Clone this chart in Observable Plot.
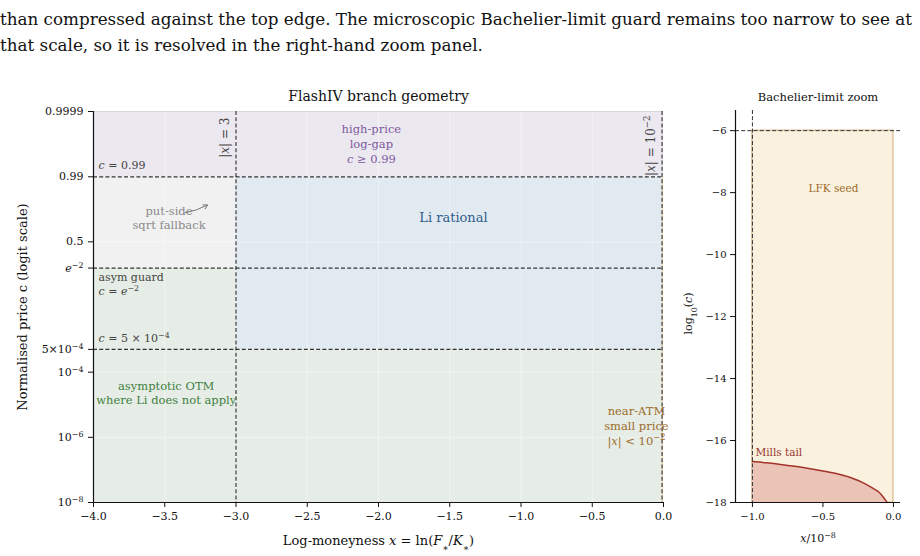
<!DOCTYPE html>
<html>
<head>
<meta charset="utf-8">
<script src="https://cdn.jsdelivr.net/npm/d3@7"></script>
<script src="https://cdn.jsdelivr.net/npm/@observablehq/plot@0.6"></script>
<style>
  body { margin: 0; background: #fff; color: #111; width: 920px; height: 556px; overflow: hidden; position: relative; }
  #para { position: absolute; left: 0; top: 6px; width: 940px; font-family: "DejaVu Serif", "Liberation Serif", serif; font-size: 16.75px; line-height: 26px; white-space: nowrap; color: #111; }
  #left { position: absolute; left: 0; top: 80px; }
  #right { position: absolute; left: 680px; top: 80px; }
</style>
</head>
<body>
<div id="para">than compressed against the top edge. The microscopic Bachelier-limit guard remains too narrow to see at<br>that scale, so it is resolved in the right-hand zoom panel.</div>
<div id="left"></div>
<div id="right"></div>
<script>
const logit = c => Math.log(c / (1 - c));

// ---------- left panel data ----------
const xTicks = [-4, -3.5, -3, -2.5, -2, -1.5, -1, -0.5, 0];
const cTicks = [0.9999, 0.99, 0.5, Math.exp(-2), 5e-4, 1e-4, 1e-6, 1e-8];
const cTickLabels = ["0.9999", "0.99", "0.5", "`e`^{−2}", "5×10^{−4}", "10^{−4}", "10^{−6}", "10^{−8}"];
const xDomain = [-4, 0];
const cDomain = [1e-8, 0.9999];

const regionName = ["high-price log-gap", "put-side sqrt fallback", "Li rational", "asymptotic OTM", "asymptotic OTM", "near-ATM small price"];
const regionX1 = [-4, -4, -3, -4, -3, -0.01];
const regionX2 = [0, -3, -0.01, -3, -0.01, 0];
const regionC1 = [0.99, Math.exp(-2), 5e-4, 1e-8, 1e-8, 1e-8];
const regionC2 = [0.9999, 0.99, 0.99, Math.exp(-2), 5e-4, 0.99];

const cThresholds = [0.99, Math.exp(-2), 5e-4];
const xThresholds = [-3, -0.01];

// ---------- right panel data ----------
const zoomXTicks = [-1, -0.5, 0];
const zoomYTicks = [-6, -8, -10, -12, -14, -16, -18];
const zoomXDomain = [-1.12, 0.05];
const zoomYDomain = [-18, -5.35];
const lfkX = [-1, 0];
const lfkLog10C = [-18, -6];
const millsX = [-1.0, -0.9, -0.8, -0.7, -0.6, -0.5, -0.4, -0.3, -0.25, -0.2, -0.15, -0.1, -0.07, -0.045];
const millsLog10C = [-16.68, -16.72, -16.77, -16.83, -16.90, -16.98, -17.07, -17.20, -17.29, -17.40, -17.53, -17.68, -17.84, -18.0];

// ---------- styles ----------
const regionColors = {
  "high-price log-gap": "#ece8f0",
  "put-side sqrt fallback": "#f1f1f1",
  "Li rational": "#e1e9f1",
  "asymptotic OTM": "#e6ede6",
  "near-ATM small price": "#f0dcb4"
};
const FONT = "DejaVu Serif";
const dash = {stroke: "#333", strokeWidth: 1.15, strokeDasharray: "4,2.2"};

const regions = regionName.map((n, i) => ({name: n, x1: regionX1[i], x2: regionX2[i], y1: logit(regionC1[i]), y2: logit(regionC2[i])}));
const cTickLogit = cTicks.map(logit);
const tickLabelOf = new Map(cTickLogit.map((v, i) => [v, cTickLabels[i]]));

const left = Plot.plot({
  width: 680, height: 476,
  marginLeft: 93, marginRight: 17, marginTop: 31, marginBottom: 54,
  style: {fontFamily: FONT, fontSize: "11px", background: "white", color: "#111", overflow: "visible"},
  x: {domain: xDomain},
  y: {domain: cDomain.map(logit)},
  marks: [
    Plot.rect(regions, {x1: "x1", x2: "x2", y1: "y1", y2: "y2", fill: d => regionColors[d.name]}),
    Plot.gridX(xTicks, {stroke: "white", strokeOpacity: 0.55, strokeWidth: 0.8}),
    Plot.gridY(cTickLogit, {stroke: "white", strokeOpacity: 0.55, strokeWidth: 0.8}),
    Plot.ruleY([logit(cDomain[1])], {stroke: "#d8d8d8", strokeWidth: 1}),
    Plot.ruleY(cThresholds.map(logit), {...dash}),
    Plot.ruleX(xThresholds, {...dash}),
    Plot.ruleX([xDomain[0]], {stroke: "#111", strokeWidth: 1.2}),
    Plot.ruleY([logit(cDomain[0])], {stroke: "#111", strokeWidth: 1.2}),
    Plot.axisX(xTicks, {tickSize: 5, tickPadding: 5, tickFormat: d3.format(".1f"), fontSize: 11, stroke: "#111"}),
    Plot.axisY(cTickLogit, {tickSize: 5, tickPadding: 5, tickFormat: v => tickLabelOf.get(v), fontSize: 11, stroke: "#111"}),
    // axis labels and title
    Plot.text(["FlashIV branch geometry"], {frameAnchor: "top", lineAnchor: "middle", dy: -15, fontSize: 14, fill: "#111"}),
    Plot.text(["Log-moneyness `x` = ln(`F`_{∗}/`K`_{∗})"], {frameAnchor: "bottom", lineAnchor: "middle", dy: 38, fontSize: 13, fill: "#111"}),
    Plot.text(["Normalised price c (logit scale)"], {frameAnchor: "left", textAnchor: "middle", lineAnchor: "middle", dx: -71, rotate: -90, fontSize: 13, fill: "#111"}),
    // threshold labels
    Plot.text(["|`x`| = 3"], {x: -3, frameAnchor: "top", lineAnchor: "middle", dx: -11, dy: 6, rotate: -90, textAnchor: "end", fontSize: 12, fill: "#444"}),
    Plot.text(["|`x`| = 10^{−2}"], {x: -0.01, frameAnchor: "top", lineAnchor: "middle", dx: -11, dy: 4, rotate: -90, textAnchor: "end", fontSize: 12, fill: "#444"}),
    Plot.text(["`c` = 0.99"], {x: -4, y: logit(0.99), dx: 5, dy: -11, textAnchor: "start", fontSize: 11, fill: "#444"}),
    Plot.text(["asym guard\n`c` = `e`^{−2}"], {x: -4, y: logit(Math.exp(-2)), dx: 5, dy: 3, lineAnchor: "top", lineHeight: 1.25, textAnchor: "start", fontSize: 11, fill: "#444"}),
    Plot.text(["`c` = 5 × 10^{−4}"], {x: -4, y: logit(5e-4), dx: 5, dy: -11, textAnchor: "start", fontSize: 11, fill: "#444"}),
    // region labels
    Plot.text(["high-price\nlog-gap\n`c` ≥ 0.99"], {x: -2.05, y: 6.95, lineHeight: 1.3, fontSize: 11.5, fill: "#7d5a9c"}),
    Plot.text(["put-side\nsqrt fallback"], {x: -3.47, y: 1.72, lineHeight: 1.25, fontSize: 11.5, fill: "#8a8a8a"}),
    Plot.arrow([{x1: -3.36, y1: 2.05, x2: -3.2, y2: 2.6}], {x1: "x1", y1: "y1", x2: "x2", y2: "y2", stroke: "#777", strokeWidth: 1, headLength: 7, bend: -10}),
    Plot.text(["Li rational"], {x: -1.474, y: 1.72, fontSize: 13, fill: "#2f5f8c"}),
    Plot.text(["asymptotic OTM\nwhere Li does not apply"], {x: -3.49, y: -10.65, lineHeight: 1.25, fontSize: 11.5, fill: "#3f7f3f"}),
    Plot.text(["near-ATM\nsmall price\n|`x`| < 10^{−2}"], {x: -0.19, y: -12.98, lineHeight: 1.3, fontSize: 11.5, fill: "#9c6c2c"})
  ]
});
document.getElementById("left").appendChild(left);

const lfk = [{x1: lfkX[0], x2: lfkX[1], y1: lfkLog10C[0], y2: lfkLog10C[1]}];
const mills = millsX.map((x, i) => ({x, y: millsLog10C[i]}));

const right = Plot.plot({
  width: 240, height: 476,
  marginLeft: 55, marginRight: 20, marginTop: 30, marginBottom: 54,
  style: {fontFamily: FONT, fontSize: "10px", background: "white", color: "#111", overflow: "visible"},
  x: {domain: zoomXDomain},
  y: {domain: zoomYDomain},
  marks: [
    Plot.rect(lfk, {x1: "x1", x2: "x2", y1: "y1", y2: "y2", fill: "#fbf1df", stroke: "#d9b88c", strokeWidth: 1.2}),
    Plot.areaY(mills, {x: "x", y1: () => zoomYDomain[0], y2: "y", fill: "#ebc4b7", curve: "monotone-x"}),
    Plot.line(mills, {x: "x", y: "y", stroke: "#a3342c", strokeWidth: 1.5, curve: "monotone-x"}),
    Plot.ruleY([lfkLog10C[1]], {...dash, strokeWidth: 1}),
    Plot.ruleX([lfkX[0]], {...dash, strokeWidth: 1}),
    Plot.ruleX([zoomXDomain[0]], {stroke: "#111", strokeWidth: 1.2}),
    Plot.ruleY([zoomYDomain[0]], {stroke: "#111", strokeWidth: 1.2}),
    Plot.axisX(zoomXTicks, {tickSize: 5, tickPadding: 5, tickFormat: d3.format(".1f"), fontSize: 10, stroke: "#111"}),
    Plot.axisY(zoomYTicks, {tickSize: 5, tickPadding: 4, tickFormat: d3.format("d"), fontSize: 10, stroke: "#111"}),
    Plot.text(["Bachelier-limit zoom"], {frameAnchor: "top", lineAnchor: "middle", dy: -13, fontSize: 11.5, fill: "#111"}),
    Plot.text(["`x`/10^{−8}"], {frameAnchor: "bottom", lineAnchor: "middle", dy: 36, fontSize: 11, fill: "#111"}),
    Plot.text(["log_{10}(`c`)"], {frameAnchor: "left", textAnchor: "middle", lineAnchor: "middle", dx: -47, dy: 7, rotate: -90, fontSize: 11, fill: "#111"}),
    Plot.text(["LFK seed"], {x: -0.425, y: -7.87, fontSize: 10.5, fill: "#9c6c2c"}),
    Plot.text(["Mills tail"], {x: -1, y: -16.4, dx: 3, textAnchor: "start", fontSize: 10.5, fill: "#9a3530"})
  ]
});
document.getElementById("right").appendChild(right);

// render simple markup: `v` italic, ^{..} superscript, _{..} subscript
const SVGNS = "http://www.w3.org/2000/svg";
function renderMarkup(root) {
  const walker = document.createTreeWalker(root, NodeFilter.SHOW_TEXT);
  const nodes = [];
  while (walker.nextNode()) nodes.push(walker.currentNode);
  const re = /`([^`]+)`|\^\{([^}]*)\}|_\{([^}]*)\}/g;
  for (const node of nodes) {
    const s = node.nodeValue;
    re.lastIndex = 0;
    if (!re.test(s)) continue;
    re.lastIndex = 0;
    const frag = document.createDocumentFragment();
    let last = 0, m;
    while ((m = re.exec(s))) {
      if (m.index > last) frag.appendChild(document.createTextNode(s.slice(last, m.index)));
      const t = document.createElementNS(SVGNS, "tspan");
      if (m[1] !== undefined) {
        t.setAttribute("font-style", "italic");
        t.textContent = m[1];
      } else if (m[2] !== undefined) {
        t.setAttribute("baseline-shift", "super");
        t.setAttribute("font-size", "72%");
        t.textContent = m[2];
      } else {
        t.setAttribute("baseline-shift", "sub");
        t.setAttribute("font-size", "72%");
        t.textContent = m[3];
      }
      frag.appendChild(t);
      last = m.index + m[0].length;
    }
    if (last < s.length) frag.appendChild(document.createTextNode(s.slice(last)));
    node.parentNode.replaceChild(frag, node);
  }
}
renderMarkup(left);
renderMarkup(right);
</script>
</body>
</html>
